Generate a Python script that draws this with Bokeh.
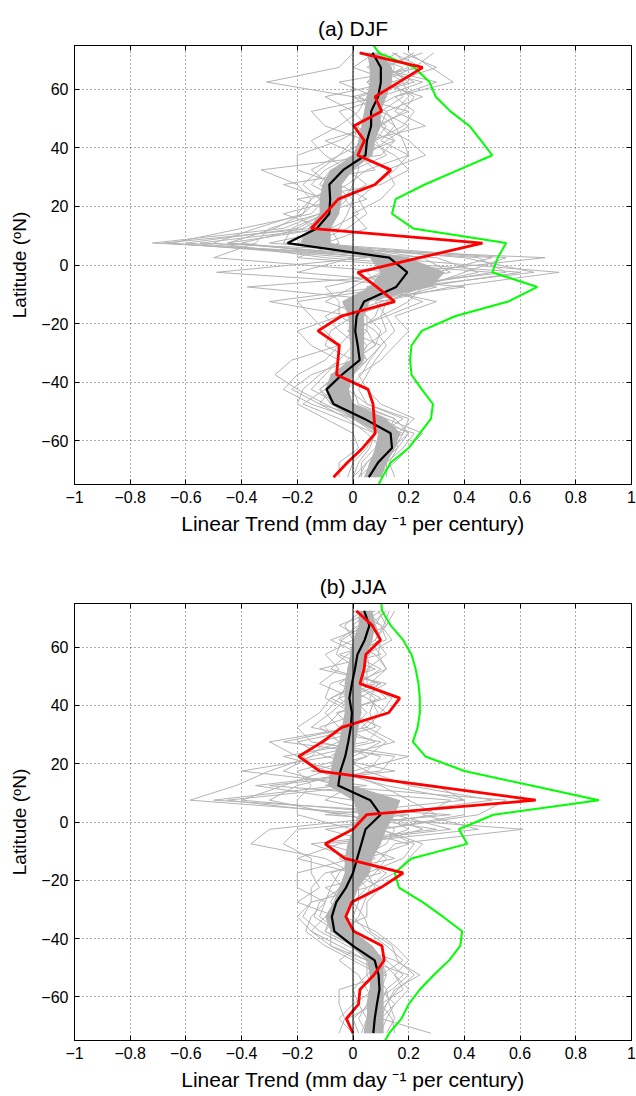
from bokeh.plotting import figure
from bokeh.layouts import column
from bokeh.models import (LinearAxis, FixedTicker, CustomJSTickFormatter, Range1d, Span)
from bokeh.embed import file_html
from bokeh.resources import INLINE

# ---------------- data ----------------
lat = [72.5, 67.5, 62.5, 57.5, 52.5, 47.5, 42.5, 37.5, 32.5, 27.5, 22.5, 17.5, 12.5, 7.5, 2.5,
       -2.5, -7.5, -12.5, -17.5, -22.5, -27.5, -32.5, -37.5, -42.5, -47.5, -52.5, -57.5, -62.5, -67.5, -72.5]
lat_green = [77.5] + lat + [-77.5]

x_ticks = [-1, -0.8, -0.6, -0.4, -0.2, 0, 0.2, 0.4, 0.6, 0.8, 1]
y_ticks = [-60, -40, -20, 0, 20, 40, 60]

# (a) DJF
djf_black = [0.07, 0.10, 0.10, 0.09, 0.065, 0.065, 0.05, 0.045, -0.035, -0.085, -0.082, -0.085, -0.13, -0.235, 0.13,
             0.195, 0.155, 0.04, 0.013, 0.008, 0.017, 0.024, -0.04, -0.095, -0.07, 0.04, 0.135, 0.14, 0.09, 0.057]
djf_red = [0.024, 0.25, 0.165, 0.079, 0.103, 0.003, 0.041, 0.017, 0.136, 0.079, -0.053, -0.10, -0.15, 0.465, 0.24,
           0.017, 0.085, 0.15, -0.042, -0.126, -0.049, -0.054, -0.059, 0.054, 0.072, 0.076, 0.08, 0.035, -0.02, -0.07]
djf_green = [0.055, 0.093, 0.22, 0.275, 0.297, 0.35, 0.418, 0.46, 0.50, 0.379, 0.258, 0.153, 0.14, 0.216, 0.55, 0.52,
             0.50, 0.662, 0.557, 0.366, 0.247, 0.21, 0.205, 0.21, 0.247, 0.287, 0.28, 0.24, 0.20, 0.136, 0.105, 0.08]
djf_band_lo = [0.05, 0.06, 0.06, 0.05, 0.04, 0.03, 0.02, 0.00, -0.08, -0.11, -0.12, -0.12, -0.16, -0.19, 0.06,
               0.10, 0.06, -0.04, -0.015, -0.015, -0.01, -0.01, -0.08, -0.10, -0.08, 0.00, 0.09, 0.08, 0.06, 0.04]
djf_band_hi = [0.10, 0.14, 0.14, 0.12, 0.10, 0.10, 0.08, 0.07, 0.00, -0.04, -0.04, -0.05, -0.08, -0.08, 0.20,
               0.33, 0.28, 0.06, 0.04, 0.04, 0.04, 0.04, 0.00, -0.015, 0.00, 0.12, 0.17, 0.15, 0.12, 0.10]
djf_members = [
    [0.10, 0.15, 0.12, 0.08, 0.10, 0.05, 0.02, 0.06, -0.05, -0.10, -0.08, -0.12, -0.25, -0.72, 0.30, 0.45, 0.20, 0.05, 0.02, 0.00, 0.05, 0.02, -0.05, -0.12, -0.08, 0.05, 0.15, 0.16, 0.10, 0.06],
    [0.20, 0.28, 0.36, 0.15, 0.05, 0.12, 0.08, 0.00, -0.10, -0.15, -0.05, -0.10, -0.20, -0.60, 0.10, 0.74, 0.35, 0.10, -0.05, 0.05, 0.00, -0.05, -0.10, -0.15, -0.05, 0.10, 0.20, 0.14, 0.08, 0.02],
    [0.00, -0.05, -0.31, 0.00, 0.08, 0.15, 0.10, 0.20, 0.05, -0.02, -0.12, -0.05, -0.10, -0.45, 0.20, 0.10, 0.00, -0.10, 0.05, 0.10, 0.08, 0.00, -0.08, -0.05, 0.00, 0.15, 0.12, 0.10, 0.05, 0.00],
    [0.15, 0.20, 0.05, 0.12, -0.05, 0.00, 0.15, 0.10, -0.33, -0.20, -0.15, -0.18, -0.35, -0.50, -0.10, 0.60, 0.25, 0.20, 0.10, 0.00, -0.05, -0.10, -0.20, -0.25, -0.15, 0.00, 0.10, 0.12, 0.08, 0.04],
    [0.25, 0.10, 0.18, 0.20, 0.15, 0.26, 0.05, -0.05, -0.15, -0.08, 0.00, -0.02, -0.05, -0.30, 0.45, 0.55, 0.10, 0.25, 0.12, 0.15, 0.10, 0.05, 0.00, -0.08, -0.12, 0.05, 0.22, 0.18, 0.12, 0.10],
    [0.05, 0.12, 0.20, 0.00, 0.20, 0.08, -0.10, 0.02, 0.08, -0.25, -0.10, -0.15, -0.40, -0.65, 0.00, -0.20, 0.40, 0.00, -0.10, -0.05, 0.02, 0.05, -0.02, -0.10, -0.18, -0.05, 0.08, 0.05, 0.00, -0.02],
    [0.12, 0.05, 0.25, 0.10, -0.15, -0.10, 0.05, 0.15, 0.20, 0.10, -0.20, -0.05, -0.15, -0.20, 0.50, 0.30, -0.38, 0.15, 0.00, 0.08, 0.12, 0.08, 0.05, 0.02, 0.05, 0.20, 0.18, 0.10, 0.06, 0.05],
    [0.29, 0.22, 0.10, 0.05, 0.02, -0.05, -0.15, -0.10, -0.02, 0.05, -0.05, -0.25, -0.10, -0.55, 0.69, 0.20, 0.15, -0.20, -0.15, -0.10, -0.05, -0.22, -0.28, -0.20, -0.10, 0.00, 0.08, 0.06, 0.02, 0.00],
    [0.08, 0.00, 0.15, 0.18, 0.10, 0.20, 0.12, 0.05, -0.08, -0.12, -0.02, -0.08, -0.18, -0.40, 0.05, -0.49, 0.30, 0.10, 0.08, 0.02, 0.00, 0.05, 0.00, -0.05, 0.00, 0.12, 0.25, 0.20, 0.15, 0.08],
    [0.02, 0.18, 0.08, 0.25, 0.12, 0.10, 0.20, 0.26, 0.12, 0.15, 0.10, 0.00, 0.05, -0.10, 0.25, 0.35, 0.05, 0.30, 0.15, 0.20, 0.15, 0.10, 0.02, 0.05, 0.10, 0.22, 0.16, 0.15, 0.12, 0.12],
    [0.18, 0.30, 0.14, -0.10, 0.00, 0.05, -0.05, -0.20, -0.20, -0.05, 0.05, -0.12, -0.30, -0.35, -0.50, 0.15, -0.10, -0.05, -0.05, -0.20, -0.15, -0.05, -0.12, -0.18, -0.20, -0.10, 0.00, 0.02, -0.05, -0.05],
    [0.06, 0.08, 0.30, 0.15, 0.22, 0.18, 0.08, 0.12, 0.00, -0.05, -0.08, -0.10, -0.22, -0.25, 0.40, 0.65, 0.20, 0.00, 0.05, 0.05, 0.08, 0.00, -0.02, -0.08, -0.02, 0.08, 0.14, 0.13, 0.08, 0.05],
    [0.14, 0.25, -0.05, 0.08, 0.05, 0.02, 0.00, -0.05, -0.12, -0.18, -0.12, -0.18, -0.28, -0.45, 0.15, 0.05, 0.10, -0.30, 0.00, -0.08, -0.10, 0.00, -0.15, -0.22, -0.12, -0.02, 0.05, 0.10, 0.05, 0.02],
    [0.22, 0.12, 0.22, 0.02, 0.12, 0.15, 0.18, 0.20, 0.15, 0.08, 0.02, 0.05, -0.02, -0.15, 0.55, 0.40, 0.25, 0.12, 0.10, 0.12, 0.05, 0.02, 0.00, 0.00, 0.02, 0.15, 0.20, 0.16, 0.13, 0.15],
    [0.04, 0.10, 0.05, 0.10, 0.08, 0.00, 0.05, 0.00, -0.05, -0.06, -0.15, -0.20, -0.15, -0.68, 0.10, 0.25, 0.05, 0.05, -0.02, 0.02, 0.03, -0.02, -0.06, -0.12, -0.06, 0.02, 0.18, 0.15, 0.10, 0.08],
    [0.16, 0.06, 0.12, 0.22, 0.18, 0.10, 0.15, 0.02, 0.02, 0.00, -0.03, 0.02, -0.08, -0.05, -0.20, 0.50, 0.18, 0.08, 0.12, -0.02, 0.10, 0.06, 0.03, -0.02, 0.05, 0.18, 0.10, 0.08, 0.03, 0.03],
]

# (b) JJA
jja_black = [0.04, 0.059, 0.042, 0.016, 0.007, -0.004, -0.013, -0.004, -0.008, -0.017, -0.028, -0.045, -0.053, 0.062, 0.099,
             0.045, 0.03, 0.015, 0.0, -0.025, -0.06, -0.076, -0.067, 0.0, 0.078, 0.092, 0.095, 0.086, 0.078, 0.073]
jja_red = [0.012, 0.069, 0.099, 0.046, 0.04, 0.025, 0.168, 0.128, -0.04, -0.11, -0.195, -0.12, 0.27, 0.656, 0.049,
           0.0, -0.10, -0.03, 0.18, 0.10, -0.004, -0.026, 0.003, 0.104, 0.112, 0.075, 0.025, 0.02, -0.024, 0.0]
jja_green = [0.10, 0.104, 0.135, 0.18, 0.21, 0.225, 0.235, 0.24, 0.24, 0.232, 0.215, 0.26, 0.40, 0.64, 0.883, 0.504,
             0.38, 0.41, 0.21, 0.15, 0.165, 0.25, 0.323, 0.392, 0.385, 0.345, 0.29, 0.24, 0.20, 0.174, 0.13, 0.10]
jja_band_lo = [0.02, 0.02, 0.00, -0.01, -0.02, -0.03, -0.03, -0.03, -0.04, -0.05, -0.07, -0.08, -0.09, 0.00, 0.02,
               0.00, -0.02, -0.03, -0.03, -0.05, -0.07, -0.10, -0.08, -0.01, 0.05, 0.06, 0.06, 0.05, 0.05, 0.04]
jja_band_hi = [0.07, 0.08, 0.07, 0.05, 0.04, 0.03, 0.03, 0.03, 0.02, 0.01, 0.00, 0.00, 0.00, 0.17, 0.15,
               0.12, 0.10, 0.07, 0.06, 0.02, 0.00, -0.03, 0.00, 0.07, 0.11, 0.11, 0.11, 0.11, 0.11, 0.11]
jja_members = [
    [0.05, 0.10, 0.14, 0.05, 0.00, 0.08, -0.05, 0.02, -0.05, -0.10, -0.15, -0.30, -0.42, -0.585, 0.10, 0.20, 0.05, 0.00, -0.05, -0.08, -0.10, -0.12, -0.05, 0.05, 0.10, 0.12, 0.10, 0.08, 0.05, 0.04],
    [0.10, 0.02, -0.05, 0.08, 0.12, 0.00, 0.10, -0.05, -0.10, -0.05, 0.05, -0.15, 0.30, 0.40, -0.10, 0.61, 0.15, 0.10, 0.05, 0.00, -0.05, -0.08, -0.10, 0.00, 0.15, 0.24, 0.15, 0.12, 0.10, 0.28],
    [0.02, 0.05, 0.00, -0.10, -0.05, -0.12, 0.00, 0.05, 0.00, -0.30, -0.20, -0.10, -0.25, -0.40, 0.20, -0.30, -0.367, -0.10, 0.00, 0.05, -0.15, -0.20, -0.15, -0.05, 0.05, 0.05, 0.08, 0.00, -0.05, 0.00],
    [0.15, 0.12, 0.08, 0.12, 0.05, 0.05, 0.14, 0.10, 0.05, 0.15, -0.05, 0.05, -0.10, 0.55, 0.45, 0.10, 0.25, 0.20, 0.15, 0.05, 0.00, -0.03, 0.08, 0.15, 0.20, 0.15, 0.20, 0.15, 0.12, 0.10],
    [0.04, 0.08, 0.10, 0.00, 0.10, 0.02, -0.08, -0.12, -0.20, -0.15, 0.20, 0.00, -0.20, -0.30, -0.05, 0.30, -0.15, 0.00, -0.20, -0.20, -0.10, -0.15, -0.17, -0.10, 0.00, 0.10, 0.06, 0.05, 0.02, 0.05],
    [0.08, -0.05, 0.05, 0.10, -0.12, 0.12, 0.02, -0.02, 0.10, 0.05, -0.25, -0.05, 0.10, 0.20, 0.30, -0.10, 0.10, -0.05, 0.05, -0.05, -0.08, -0.05, 0.00, 0.10, 0.12, 0.18, 0.12, 0.10, 0.08, 0.06],
    [0.12, 0.06, -0.08, 0.03, 0.03, -0.05, 0.05, 0.12, -0.02, 0.00, -0.08, -0.40, 0.05, -0.45, 0.00, 0.05, 0.00, 0.15, -0.10, -0.15, -0.15, -0.18, -0.12, -0.02, 0.08, 0.08, 0.12, 0.13, 0.15, 0.12],
    [0.00, 0.10, 0.12, -0.05, 0.08, -0.08, -0.10, 0.00, 0.05, -0.20, -0.10, 0.15, -0.30, 0.35, 0.25, 0.45, -0.05, -0.20, 0.00, 0.10, 0.05, 0.05, -0.08, -0.08, 0.02, 0.12, -0.05, -0.05, -0.03, -0.05],
    [0.06, 0.00, 0.06, -0.02, -0.08, 0.10, -0.02, -0.08, -0.15, 0.10, 0.00, -0.20, -0.15, -0.20, -0.20, 0.00, 0.20, 0.05, 0.10, -0.10, -0.02, -0.10, -0.15, -0.08, 0.05, 0.20, 0.14, 0.06, 0.00, 0.02],
    [0.09, 0.12, 0.02, 0.06, 0.00, 0.00, 0.08, 0.06, 0.08, -0.12, 0.10, 0.05, 0.20, 0.50, 0.10, 0.25, 0.05, 0.12, 0.08, 0.02, 0.02, 0.00, 0.05, 0.12, 0.18, 0.10, 0.10, 0.15, 0.10, 0.09],
    [0.03, -0.03, 0.00, 0.05, 0.06, -0.02, -0.05, -0.10, -0.05, 0.08, -0.15, -0.25, -0.05, -0.50, 0.35, -0.20, -0.25, -0.15, -0.15, -0.12, -0.20, -0.06, -0.10, 0.00, 0.10, 0.05, 0.00, 0.02, 0.05, 0.03],
    [0.11, 0.08, 0.10, 0.09, 0.12, 0.06, 0.12, -0.06, 0.00, -0.25, 0.15, 0.10, -0.35, 0.00, 0.05, 0.15, 0.12, 0.02, 0.12, 0.06, 0.04, 0.02, -0.02, 0.06, 0.10, 0.15, 0.18, 0.10, 0.14, 0.15],
    [0.07, 0.04, -0.04, -0.06, 0.02, 0.04, -0.08, 0.03, -0.12, -0.05, -0.18, -0.12, 0.00, -0.10, 0.15, 0.35, -0.10, 0.08, -0.08, -0.04, -0.12, -0.14, -0.06, 0.02, -0.05, 0.02, 0.05, 0.08, -0.02, 0.00],
    [0.13, 0.11, 0.08, 0.00, -0.02, 0.09, 0.06, 0.09, 0.03, 0.12, 0.05, -0.08, 0.12, 0.40, 0.40, 0.10, 0.22, 0.18, 0.05, 0.08, 0.00, 0.04, 0.06, 0.14, 0.16, 0.22, 0.16, 0.12, 0.08, 0.06],
]

FONT = "Liberation Sans"
GRAY = "#b3b3b3"


def style_axis(ax, ticks, fmt_code, font_size="16px"):
    ax.ticker = FixedTicker(ticks=ticks)
    ax.formatter = CustomJSTickFormatter(code=fmt_code)
    ax.major_tick_in = 5
    ax.major_tick_out = 0
    ax.minor_tick_line_color = None
    ax.axis_line_color = "black"
    ax.major_tick_line_color = "black"
    ax.major_label_text_font = FONT
    ax.major_label_text_font_size = font_size
    ax.major_label_text_color = "black"
    ax.axis_label_text_font = FONT
    ax.axis_label_text_font_style = "normal"
    ax.axis_label_text_color = "black"


NUM_FMT = "return (Math.round(tick*10)/10).toString().replace('-', '\\u2212');"
EMPTY_FMT = "return '';"


def make_panel(title, members, band_lo, band_hi, green, black, red, height, bottom):
    p = figure(width=636, height=height, output_backend="svg", toolbar_location=None,
               x_range=Range1d(-1, 1), y_range=Range1d(-75, 75),
               min_border_left=74, min_border_right=5, min_border_top=45, min_border_bottom=bottom)
    p.background_fill_color = "white"
    p.border_fill_color = "white"
    p.outline_line_color = "black"
    p.outline_line_width = 1

    p.title.text = title
    p.title.align = "center"
    p.title.text_font = FONT
    p.title.text_font_size = "21px"
    p.title.text_font_style = "normal"
    p.title.text_color = "black"
    p.title.standoff = 11

    style_axis(p.xaxis[0], x_ticks, NUM_FMT)
    style_axis(p.yaxis[0], y_ticks, NUM_FMT)
    p.xaxis[0].major_label_standoff = 6
    p.yaxis[0].major_label_standoff = 6
    p.xaxis[0].axis_label = "Linear Trend (mm day \u207b\u00b9 per century)"
    p.xaxis[0].axis_label_text_font_size = "21px"
    p.yaxis[0].axis_label = "Latitude (\u1d52N)"
    p.yaxis[0].axis_label_text_font_size = "19px"
    p.xaxis[0].axis_label_standoff = 6
    p.yaxis[0].axis_label_standoff = 8

    top = LinearAxis()
    style_axis(top, x_ticks, EMPTY_FMT)
    top.major_label_standoff = 0
    right = LinearAxis()
    style_axis(right, y_ticks, EMPTY_FMT)
    right.major_label_standoff = 0
    p.add_layout(top, "above")
    p.add_layout(right, "right")

    for g in (p.xgrid[0], p.ygrid[0]):
        g.grid_line_color = "black"
        g.grid_line_dash = "1 3"
        g.grid_line_width = 0.8
        g.grid_line_alpha = 0.8
    p.xgrid[0].ticker = FixedTicker(ticks=x_ticks)
    p.ygrid[0].ticker = FixedTicker(ticks=y_ticks)

    for m in members:
        p.line(m, lat, line_color=GRAY, line_width=1)
    p.harea(x1=band_lo, x2=band_hi, y=lat, fill_color=GRAY, fill_alpha=1)
    p.add_layout(Span(location=0, dimension="height", line_color="black", line_width=1))
    p.line(green, lat_green, line_color="#00ff00", line_width=2)
    p.line(black, lat, line_color="black", line_width=2.2)
    p.line(red, lat, line_color="#ff0000", line_width=2.8)
    return p


pa = make_panel("(a) DJF", djf_members, djf_band_lo, djf_band_hi, djf_green, djf_black, djf_red, 558, 74)
pb = make_panel("(b) JJA", jja_members, jja_band_lo, jja_band_hi, jja_green, jja_black, jja_red, 538, 56)

layout = column(pa, pb, spacing=0)
open("out.html", "w", encoding="utf-8").write(file_html(layout, INLINE))
